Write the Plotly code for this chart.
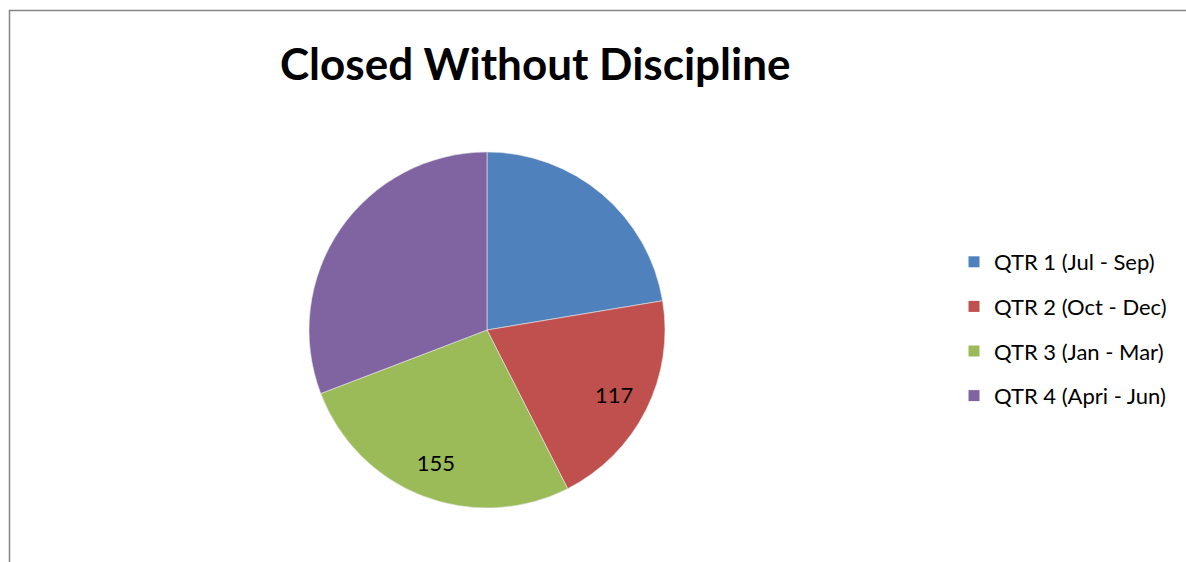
import plotly.graph_objects as go

categories = ["QTR 1 (Jul - Sep)", "QTR 2 (Oct - Dec)", "QTR 3 (Jan - Mar)", "QTR 4 (Apri - Jun)"]
values = [130, 117, 155, 179]
shown_labels = ["", "117", "155", ""]
colors = ["#4F81BD", "#C0504D", "#9BBB59", "#8064A2"]

W, H = 1186, 562
FONT = "Lato"
DOMAIN = dict(x=[309 / W, 665 / W], y=[1 - 508 / H, 1 - 152 / H])

fig = go.Figure()
# coloured pie
fig.add_trace(go.Pie(
    labels=categories, values=values, textinfo="none",
    marker=dict(colors=colors, line=dict(color="#E8E8E8", width=0.6)),
    sort=False, direction="clockwise", rotation=0,
    domain=DOMAIN, showlegend=False, hoverinfo="label+value",
))
# transparent ring carrying the data labels (places them at ~0.8 R)
fig.add_trace(go.Pie(
    labels=categories, values=values, text=shown_labels,
    textinfo="text", textposition="inside", insidetextorientation="horizontal",
    textfont=dict(size=22, color="black", family=FONT),
    marker=dict(colors=["rgba(0,0,0,0)"] * 4, line=dict(width=0)),
    hole=0.6, sort=False, direction="clockwise", rotation=0,
    domain=DOMAIN, showlegend=False, hoverinfo="skip",
))
for i, (name, c) in enumerate(zip(categories, colors)):
    fig.add_trace(go.Scatter(
        x=[None], y=[None], mode="markers", name=name,
        marker=dict(symbol="square", size=11, color=c),
        legendgroup=f"g{i}", showlegend=True,
    ))

fig.update_layout(
    width=W, height=H,
    margin=dict(l=0, r=0, t=0, b=0),
    paper_bgcolor="white", plot_bgcolor="white",
    xaxis=dict(visible=False), yaxis=dict(visible=False),
    legend=dict(
        x=954 / W, y=1 - 241 / H, xanchor="left", yanchor="top",
        font=dict(size=22, family=FONT, color="black"),
        tracegroupgap=13, itemsizing="trace", bgcolor="rgba(0,0,0,0)",
    ),
    annotations=[dict(
        text="<b>Closed Without Discipline</b>", x=535 / W, y=1 - 63 / H,
        xref="paper", yref="paper", xanchor="center", yanchor="middle",
        showarrow=False, font=dict(size=44, family=FONT, color="black"),
    )],
    shapes=[dict(
        type="rect", xref="paper", yref="paper",
        x0=9.5 / W, x1=1.02, y0=-0.02, y1=1 - 10.5 / H,
        line=dict(color="#858585", width=1.5), fillcolor="rgba(0,0,0,0)",
    )],
)
fig.write_html("out.html", config={"displayModeBar": False},
               post_script="document.body.style.margin='0';")
